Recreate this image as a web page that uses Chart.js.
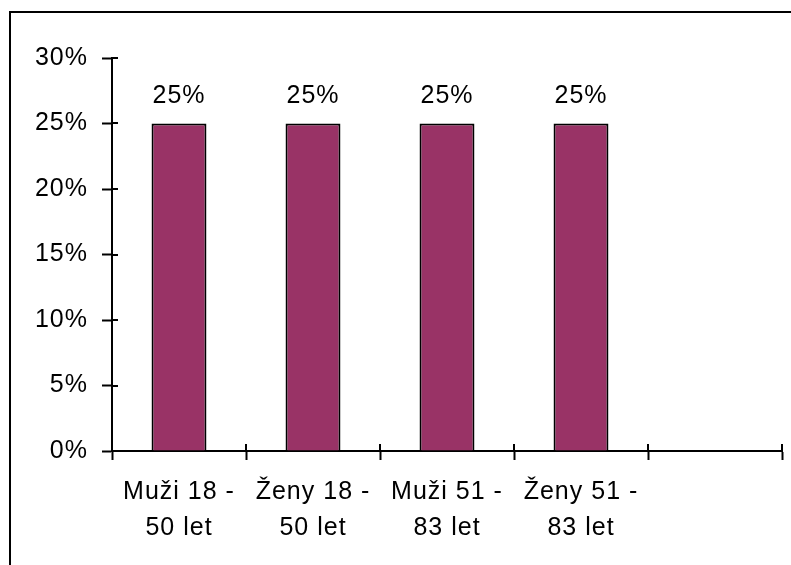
<!DOCTYPE html>
<html>
<head>
<meta charset="utf-8">
<script src="https://cdn.jsdelivr.net/npm/chart.js@4/dist/chart.umd.min.js"></script>
<style>
    html, body { margin: 0; padding: 0; background: #fff; overflow: hidden; }
    #wrap { position: relative; width: 791px; height: 565px; }
    #frame {
        position: absolute; left: 9px; top: 11px;
        width: 820px; height: 600px;
        border: 2px solid #000; box-sizing: border-box;
    }
    #chart { position: absolute; left: 0; top: 0; }
</style>
</head>
<body>
<div id="wrap">
    <div id="frame"></div>
    <canvas id="chart" width="791" height="565"></canvas>
</div>
<script>
// Podíl respondentů podle skupiny
const categories = [['Muži 18 -', '50 let'], ['Ženy 18 -', '50 let'], ['Muži 51 -', '83 let'], ['Ženy 51 -', '83 let'], ''];
const shares = [25, 25, 25, 25, null];
const yTicks = [0, 5, 10, 15, 20, 25, 30];

const FONT = { family: '"Liberation Sans", Arial, sans-serif', size: 25, lineHeight: 1.44 };
const SPACING = '1px';

/**
 * Slightly wider letter spacing for canvas text, value labels above bars
 * and the short inner part of the axis ticks
 */
const extrasPlugin = {
    id: 'extras',
    beforeLayout(chart) {
        chart.ctx.letterSpacing = SPACING;
    },
    beforeDraw(chart) {
        chart.ctx.letterSpacing = SPACING;
    },
    afterDatasetsDraw(chart) {
        const ctx = chart.ctx;
        const meta = chart.getDatasetMeta(0);
        ctx.save();
        ctx.font = FONT.size + 'px ' + FONT.family;
        ctx.fillStyle = '#000';
        ctx.textAlign = 'center';
        ctx.textBaseline = 'alphabetic';
        meta.data.forEach((bar, i) => {
            if (shares[i] == null) return;
            ctx.fillText(shares[i] + '%', bar.x, bar.y - 21);
        });

        // ticks cross the axis lines a few pixels into the plot
        const x = chart.scales.x, y = chart.scales.y;
        ctx.strokeStyle = '#000';
        ctx.lineWidth = 2;
        ctx.beginPath();
        y.ticks.forEach((t, i) => {
            const py = Math.round(y.getPixelForTick(i));
            ctx.moveTo(y.right, py);
            ctx.lineTo(y.right + 6, py);
        });
        for (let i = 0; i <= categories.length; i++) {
            const px = Math.round(x.left + i * (x.width / categories.length));
            ctx.moveTo(px, x.top);
            ctx.lineTo(px, x.top - 7);
        }
        ctx.stroke();
        ctx.restore();
    }
};

new Chart(document.getElementById('chart'), {
    type: 'bar',
    data: {
        labels: categories,
        datasets: [{
            data: shares,
            backgroundColor: '#993366',
            borderColor: '#000',
            borderWidth: 2,
            barPercentage: 0.82,
            categoryPercentage: 0.5
        }]
    },
    options: {
        responsive: false,
        animation: false,
        events: [],
        layout: { padding: { left: 0, top: 58, right: 9, bottom: 0 } },
        plugins: {
            legend: { display: false },
            tooltip: { enabled: false }
        },
        scales: {
            x: {
                grid: {
                    offset: true,
                    drawOnChartArea: false,
                    drawTicks: true,
                    tickLength: 9,
                    tickWidth: 2,
                    tickColor: '#000'
                },
                border: { color: '#000', width: 2 },
                ticks: {
                    color: '#000',
                    font: FONT,
                    padding: 14,
                    maxRotation: 0,
                    autoSkip: false
                },
                afterFit(scale) { scale.height = 114; }
            },
            y: {
                min: 0,
                max: 30,
                afterBuildTicks(scale) {
                    scale.ticks = yTicks.map(v => ({ value: v }));
                },
                grid: {
                    drawOnChartArea: false,
                    drawTicks: true,
                    tickLength: 10,
                    tickWidth: 2,
                    tickColor: '#000'
                },
                border: { color: '#000', width: 2 },
                ticks: {
                    color: '#000',
                    font: FONT,
                    padding: 14,
                    callback: v => v + '%'
                },
                afterFit(scale) { scale.width = 112; }
            }
        }
    },
    plugins: [extrasPlugin]
});
</script>
</body>
</html>
